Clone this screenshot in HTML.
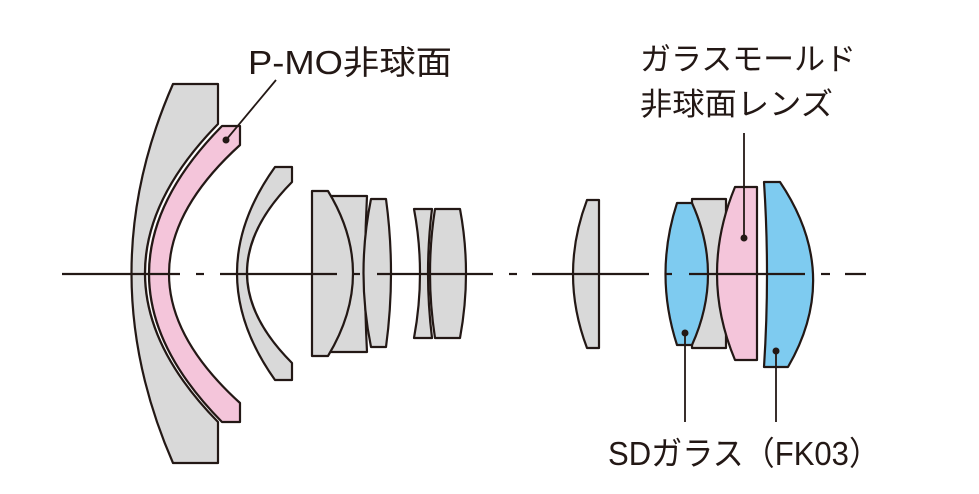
<!DOCTYPE html>
<html><head><meta charset="utf-8"><style>
html,body{margin:0;padding:0;background:#fff;}
svg{display:block}
text{font-family:"Liberation Sans","Noto Sans CJK JP",sans-serif;fill:#231815;}
</style></head><body>
<svg width="979" height="494" viewBox="0 0 979 494" xmlns="http://www.w3.org/2000/svg">
<g stroke="#231815" stroke-width="2.2" stroke-linejoin="round">
<!-- lens 1 gray -->
<path d="M173,84 L218,84 L218,124 Q72,273 218,422 L218,463 L173,463 Q90,273 173,84 Z" fill="#d9d9d9"/>
<!-- lens 1 pink -->
<path d="M222,126 L240,126 L240,145 Q98,274 240,403 L240,422 L222,422 Q76,274 222,126 Z" fill="#f4c5da"/>
<!-- lens 2 meniscus -->
<path d="M275,167 L292,167 L292,182 Q202,273 292,363 L292,380 L275,380 Q199,273 275,167 Z" fill="#d9d9d9"/>
<!-- lens 3 group -->
<path d="M330,196 L367,196 Q363,273 367,352 L330,352 Z" fill="#d9d9d9"/>
<path d="M312,191 L328,191 Q378,273 328,356 L312,356 Z" fill="#d9d9d9"/>
<!-- lens 4 -->
<path d="M371,199 L386,199 Q396,273 386,347 L371,347 Q356,273 371,199 Z" fill="#d9d9d9"/>
<!-- lens 5, 6 -->
<path d="M414,209 L432,209 Q424,273 432,338 L414,338 Q426,273 414,209 Z" fill="#d9d9d9"/>
<path d="M435,209 L460,209 Q472,273 460,338 L435,338 Q425,273 435,209 Z" fill="#d9d9d9"/>
<!-- lens 7 -->
<path d="M587,200 L599,200 L599,348 L587,348 Q559,274 587,200 Z" fill="#d9d9d9"/>
<!-- right group -->
<path d="M692,199 L726,199 L726,348 L692,348 Z" fill="#d9d9d9"/>
<path d="M677,203 L692,203 Q724,274 692,345 L677,345 Q654,274 677,203 Z" fill="#7ecbf0"/>
<path d="M735,187 L757,187 L757,360 L735,360 Q699,274 735,187 Z" fill="#f4c5da"/>
<path d="M764,182 L780,182 Q842,274 788,367 L764,367 Q770,274 764,182 Z" fill="#7ecbf0"/>
</g>
<!-- axis -->
<g stroke="#231815" stroke-width="2.2">
<line x1="62" y1="274" x2="180" y2="274"/>
<line x1="196" y1="274" x2="204" y2="274"/>
<line x1="220" y1="274" x2="337" y2="274"/>
<line x1="352" y1="274" x2="360" y2="274"/>
<line x1="377" y1="274" x2="493" y2="274"/>
<line x1="509" y1="274" x2="517" y2="274"/>
<line x1="532" y1="274" x2="649" y2="274"/>
<line x1="665" y1="274" x2="672" y2="274"/>
<line x1="689" y1="274" x2="805" y2="274"/>
<line x1="821" y1="274" x2="830" y2="274"/>
<line x1="845" y1="274" x2="866" y2="274"/>
</g>
<!-- leaders -->
<g stroke="#231815" stroke-width="1.8">
<line x1="276" y1="80" x2="226" y2="140"/>
<line x1="744" y1="133" x2="744" y2="238"/>
<line x1="685" y1="333" x2="685" y2="422"/>
<line x1="776" y1="351" x2="776" y2="422"/>
</g>
<g fill="#231815">
<circle cx="226" cy="140" r="3.5"/>
<circle cx="744" cy="238" r="3.5"/>
<circle cx="685" cy="333" r="3.5"/>
<circle cx="776" cy="351" r="3.5"/>
</g>
<text x="248" y="74" font-size="33" textLength="204" lengthAdjust="spacingAndGlyphs">P-MO非球面</text>
<text x="640" y="70" font-size="31" textLength="216" lengthAdjust="spacingAndGlyphs">ガラスモールド</text>
<text x="640" y="115" font-size="31" textLength="193" lengthAdjust="spacingAndGlyphs">非球面レンズ</text>
<text x="608" y="465" font-size="33" textLength="272" lengthAdjust="spacingAndGlyphs">SDガラス（FK03）</text>
</svg>
</body></html>
